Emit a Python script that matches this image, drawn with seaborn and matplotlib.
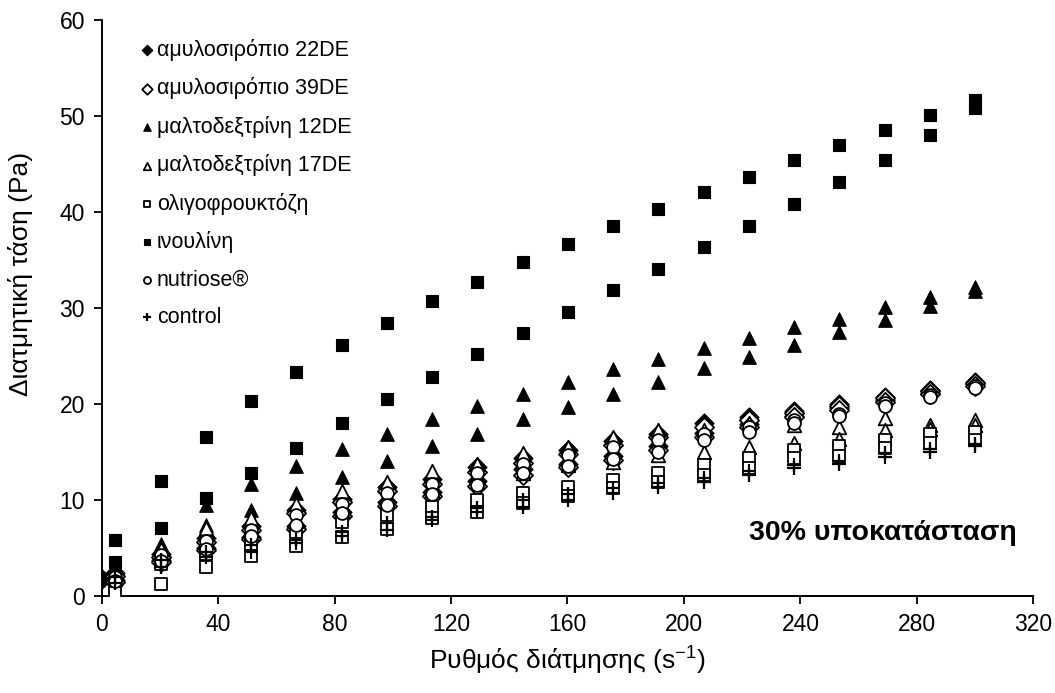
import numpy as np
import pandas as pd
import matplotlib
matplotlib.use("Agg")
import matplotlib.pyplot as plt
import seaborn as sns

# ---------------- data ----------------
shear_rate = [4.6, 20.2, 35.7, 51.3, 66.8, 82.4, 97.9, 113.5, 129.0, 144.6,
              160.1, 175.7, 191.2, 206.8, 222.3, 237.9, 253.4, 269.0, 284.5, 300.0]

amyl22_up   = [2.4, 4.4, 6.0, 7.3, 9.0, 10.1, 11.4, 12.2, 13.4, 14.4, 15.2, 16.1, 16.9, 18.0, 18.6, 19.3, 20.0, 20.7, 21.5, 22.3]
amyl22_down = [1.7, 3.7, 5.0, 6.1, 7.3, 8.7, 9.8, 10.8, 12.0, 13.2, 13.8, 14.6, 15.6, 17.0, 17.9, 18.8, 19.6, 20.4, 21.2, 22.1]
amyl22_start = (0.0, 1.8)

amyl39_up   = [2.1, 4.1, 5.6, 6.9, 8.6, 9.8, 10.9, 11.7, 12.9, 13.9, 14.8, 15.7, 16.6, 17.6, 18.3, 19.1, 19.8, 20.6, 21.4, 22.2]
amyl39_down = [1.5, 3.5, 4.8, 5.9, 7.0, 8.3, 9.4, 10.4, 11.5, 12.6, 13.4, 14.2, 15.2, 16.6, 17.6, 18.6, 19.4, 20.2, 21.0, 21.9]

malto12_up   = [2.6, 5.4, 9.5, 11.7, 13.5, 15.3, 16.9, 18.4, 19.8, 21.0, 22.3, 23.6, 24.7, 25.8, 26.9, 28.0, 28.9, 30.1, 31.1, 32.2]
malto12_down = [2.0, 4.6, 7.4, 9.0, 10.7, 12.4, 14.1, 15.6, 16.9, 18.4, 19.7, 21.0, 22.3, 23.8, 24.9, 26.2, 27.5, 28.8, 30.2, 31.8]

malto17_up   = [2.2, 4.9, 7.1, 8.1, 9.6, 10.9, 11.9, 13.0, 13.8, 14.9, 15.5, 16.6, 17.3, 17.3, 18.0, 17.8, 17.6, 18.5, 17.8, 18.3]
malto17_down = [1.8, 4.0, 5.6, 6.6, 7.8, 9.0, 10.0, 11.0, 11.9, 12.8, 13.6, 14.0, 14.7, 15.0, 15.5, 15.9, 16.4, 17.3, 17.4, 17.8]

oligo_up   = [1.9, 3.3, 4.4, 5.4, 6.7, 7.7, 8.4, 9.3, 10.0, 10.7, 11.4, 12.1, 12.8, 13.6, 14.4, 15.2, 15.6, 16.2, 16.9, 17.1]
oligo_down = [0.3, 1.3, 3.0, 4.2, 5.2, 6.1, 7.0, 8.1, 8.8, 9.7, 10.4, 11.2, 11.9, 12.6, 13.3, 14.4, 14.6, 15.4, 15.9, 16.3]

inulin_up   = [5.8, 12.0, 16.6, 20.3, 23.3, 26.1, 28.4, 30.7, 32.7, 34.8, 36.7, 38.5, 40.3, 42.1, 43.7, 45.4, 47.0, 48.5, 50.1, 51.7]
inulin_down = [3.5, 7.1, 10.2, 12.8, 15.4, 18.0, 20.5, 22.8, 25.2, 27.4, 29.6, 31.9, 34.1, 36.4, 38.5, 40.8, 43.1, 45.4, 48.0, 50.8]

nutriose_up   = [2.0, 4.3, 5.7, 6.9, 8.4, 9.6, 10.7, 11.7, 12.8, 13.8, 14.7, 15.5, 16.2, 16.9, 17.6, 18.3, 19.0, 20.1, 20.9, 21.9]
nutriose_down = [1.6, 3.6, 4.9, 6.2, 7.4, 8.6, 9.5, 10.6, 11.6, 12.8, 13.5, 14.3, 15.0, 16.2, 17.1, 18.0, 18.8, 19.8, 20.7, 21.7]

control_up   = [2.0, 3.8, 4.6, 5.3, 5.8, 6.7, 7.6, 8.2, 9.2, 10.0, 10.6, 11.2, 11.8, 12.3, 13.0, 13.6, 14.1, 14.9, 15.3, 15.8]
control_down = [1.4, 3.0, 4.1, 4.6, 5.5, 6.3, 6.9, 7.9, 8.8, 9.3, 10.0, 10.7, 11.4, 11.9, 12.6, 13.3, 13.8, 14.5, 15.0, 15.6]

series_labels = ["αμυλοσιρόπιο 22DE", "αμυλοσιρόπιο 39DE", "μαλτοδεξτρίνη 12DE",
                 "μαλτοδεξτρίνη 17DE", "ολιγοφρουκτόζη", "ινουλίνη", "nutriose®", "control"]

x_ticks = [0, 40, 80, 120, 160, 200, 240, 280, 320]
y_ticks = [0, 10, 20, 30, 40, 50, 60]

x_label = "Ρυθμός διάτμησης (s$^{\\mathregular{-1}}$)"
y_label = "Διατμητική τάση (Pa)"
annotation = "30% υποκατάσταση"

# ---------------- long table ----------------
series_up_down = [
    (amyl22_up, amyl22_down), (amyl39_up, amyl39_down), (malto12_up, malto12_down),
    (malto17_up, malto17_down), (oligo_up, oligo_down), (inulin_up, inulin_down),
    (nutriose_up, nutriose_down), (control_up, control_down),
]
rows = []
for lab, (up, down) in zip(series_labels, series_up_down):
    for xv, yv in zip(shear_rate, up):
        rows.append((lab, xv, yv))
    for xv, yv in zip(shear_rate, down):
        rows.append((lab, xv, yv))
rows.append((series_labels[0], amyl22_start[0], amyl22_start[1]))
df = pd.DataFrame(rows, columns=["series", "rate", "stress"])

# ---------------- styling ----------------
sns.set_style("ticks")
plt.rcParams["font.family"] = ["Liberation Sans", "DejaVu Sans"]
plt.rcParams["mathtext.fontset"] = "custom"
plt.rcParams["mathtext.rm"] = "Liberation Sans"
plt.rcParams["mathtext.it"] = "Liberation Sans:italic"
for k in ["text.color", "axes.labelcolor", "xtick.color", "ytick.color", "axes.edgecolor"]:
    plt.rcParams[k] = "black"

styles = {
    "αμυλοσιρόπιο 22DE":  dict(marker="D", facecolor="black", edgecolor="black", s=95, linewidth=0.8),
    "αμυλοσιρόπιο 39DE":  dict(marker="D", facecolor="white", edgecolor="black", s=95, linewidth=1.3),
    "μαλτοδεξτρίνη 12DE": dict(marker="^", facecolor="black", edgecolor="black", s=95, linewidth=0.8),
    "μαλτοδεξτρίνη 17DE": dict(marker="^", facecolor="white", edgecolor="black", s=95, linewidth=1.3),
    "ολιγοφρουκτόζη":     dict(marker="s", facecolor="white", edgecolor="black", s=70, linewidth=1.3),
    "ινουλίνη":           dict(marker="s", facecolor="black", edgecolor="black", s=75, linewidth=0.8),
    "nutriose®":          dict(marker="o", facecolor="white", edgecolor="black", s=85, linewidth=1.3),
    "control":            dict(marker="+", color="black", s=110, linewidth=1.6),
}

fig = plt.figure(figsize=(10.55, 6.93), dpi=100)
ax = fig.add_axes([0.0964, 0.140, 0.883, 0.831])

for lab in series_labels:
    sub = df[df["series"] == lab]
    sns.scatterplot(data=sub, x="rate", y="stress", ax=ax, label=lab, zorder=3,
                    **styles[lab])

ax.set_xlim(0, 320)
ax.set_ylim(0, 60)
ax.set_xticks(x_ticks)
ax.set_yticks(y_ticks)
ax.tick_params(axis="both", labelsize=16.5, length=6, width=1.3, direction="out",
               pad=6, colors="black")
for sp in ["left", "bottom"]:
    ax.spines[sp].set_linewidth(1.4)
sns.despine(ax=ax)
ax.set_xlabel(x_label, fontsize=19)
ax.set_ylabel(y_label, fontsize=19)
ax.xaxis.set_label_coords(0.5, -0.084)
ax.yaxis.set_label_coords(-0.074, 0.56)

ax.text(268.5, 6.6, annotation, fontsize=20.5, fontweight="bold", ha="center", va="center")

leg = ax.legend(loc="upper left", bbox_to_anchor=(0.034, 0.982), frameon=False,
                fontsize=15.5, markerscale=0.55, handlelength=0.5, handletextpad=0.2,
                labelspacing=0.76, borderaxespad=0)

fig.savefig("out.png", dpi=100)
